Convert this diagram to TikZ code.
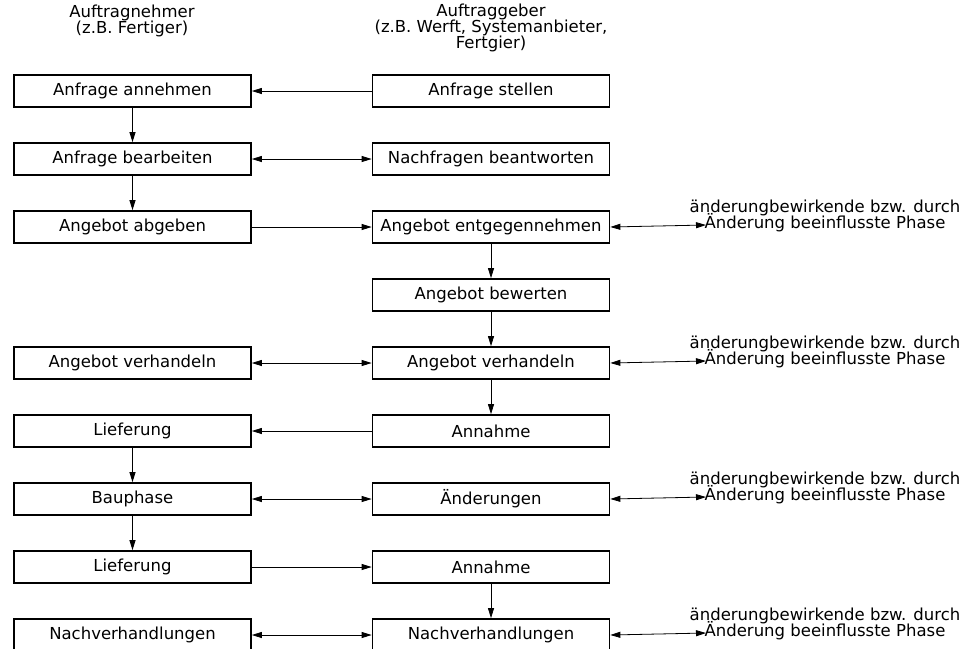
\documentclass[tikz,border=0pt]{standalone}
\usepackage{fontspec}
\setmainfont{DejaVu Sans}
\usetikzlibrary{arrows.meta}

\newcommand{\tightfont}{\fontsize{16.5}{16}\selectfont\lineskiplimit=-20pt\relax}

\tikzset{
    phase/.style={draw, line width=1.7pt, minimum width=237pt, minimum height=32pt,
        inner sep=0pt, font=\fontsize{16.5}{16}\selectfont},
    head/.style={align=center, inner sep=0pt, font=\tightfont},
    note/.style={align=center, inner sep=0pt, font=\tightfont},
    flow/.style={line width=0.8pt, -{Triangle[length=10pt,width=6pt]}},
    both/.style={line width=0.8pt, {Triangle[length=10pt,width=6pt]}-{Triangle[length=10pt,width=6pt]}},
}

\begin{document}
\begin{tikzpicture}[x=1pt, y=-1pt]
    % Page frame
    \useasboundingbox (0,0) rectangle (965,648);

    % Column headers
    \node[head] (nehmer) at (132,21) {Auftragnehmer\\(z.B. Fertiger)};
    \node[head] (geber) at (491,28) {Auftraggeber\\(z.B. Werft, Systemanbieter,\\Fertgier)};

    % Left column (Auftragnehmer)
    \node[phase] (annehmen) at (132.5,91) {Anfrage annehmen};
    \node[phase] (bearbeiten) at (132.5,159) {Anfrage bearbeiten};
    \node[phase] (abgeben) at (132.5,227) {Angebot abgeben};
    \node[phase] (verhandelnL) at (132.5,363) {Angebot verhandeln};
    \node[phase] (lieferungA) at (132.5,431) {Lieferung};
    \node[phase] (bauphase) at (132.5,499) {Bauphase};
    \node[phase] (lieferungB) at (132.5,567) {Lieferung};
    \node[phase] (nachL) at (132.5,635) {Nachverhandlungen};

    % Right column (Auftraggeber)
    \node[phase] (stellen) at (491,91) {Anfrage stellen};
    \node[phase] (nachfragen) at (491,159) {Nachfragen beantworten};
    \node[phase] (entgegen) at (491,227) {Angebot entgegennehmen};
    \node[phase] (bewerten) at (491,295) {Angebot bewerten};
    \node[phase] (verhandelnR) at (491,363) {Angebot verhandeln};
    \node[phase] (annahmeA) at (491,431) {Annahme};
    \node[phase] (aenderungen) at (491,499) {Änderungen};
    \node[phase] (annahmeB) at (491,567) {Annahme};
    \node[phase] (nachR) at (491,635) {Nachverhandlungen};

    % Notes on the right
    \node[note] (noteA) at (825,216) {änderungbewirkende bzw. durch\\Änderung beeinflusste Phase};
    \node[note] (noteB) at (825,352) {änderungbewirkende bzw. durch\\Änderung beeinflusste Phase};
    \node[note] (noteC) at (825,488) {änderungbewirkende bzw. durch\\Änderung beeinflusste Phase};
    \node[note] (noteD) at (825,624) {änderungbewirkende bzw. durch\\Änderung beeinflusste Phase};
    \coordinate (tipA) at (706,225);
    \coordinate (tipB) at (706,361);
    \coordinate (tipC) at (706,497);
    \coordinate (tipD) at (706,633);

    % Flow down the columns
    \draw[flow] (annehmen) -- (bearbeiten);
    \draw[flow] (bearbeiten) -- (abgeben);
    \draw[flow] (lieferungA) -- (bauphase);
    \draw[flow] (bauphase) -- (lieferungB);
    \draw[flow] (entgegen) -- (bewerten);
    \draw[flow] (bewerten) -- (verhandelnR);
    \draw[flow] (verhandelnR) -- (annahmeA);
    \draw[flow] (annahmeB) -- (nachR);

    % Exchange between the columns
    \draw[flow] (stellen) -- (annehmen);
    \draw[both] (bearbeiten) -- (nachfragen);
    \draw[flow] (abgeben) -- (entgegen);
    \draw[both] (verhandelnL) -- (verhandelnR);
    \draw[flow] (annahmeA) -- (lieferungA);
    \draw[both] (bauphase) -- (aenderungen);
    \draw[flow] (lieferungB) -- (annahmeB);
    \draw[both] (nachL) -- (nachR);

    % Links to the notes
    \draw[both] (entgegen.east) -- (tipA);
    \draw[both] (verhandelnR.east) -- (tipB);
    \draw[both] (aenderungen.east) -- (tipC);
    \draw[both] (nachR.east) -- (tipD);
\end{tikzpicture}
\end{document}
